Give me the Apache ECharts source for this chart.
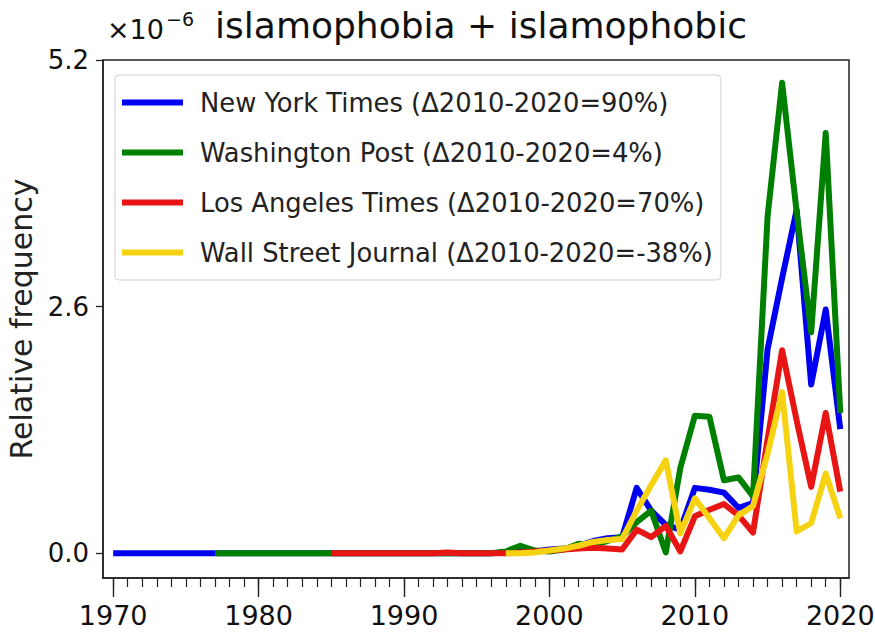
<!DOCTYPE html>
<html>
<head>
<meta charset="utf-8">
<script src="https://cdn.jsdelivr.net/npm/echarts@6/dist/echarts.min.js"></script>
<style>
html,body{margin:0;padding:0;background:#fff;}
#chart{width:875px;height:640px;}
</style>
</head>
<body>
<div id="chart"></div>
<script>
// ---- data ----
const years = [];
for (let y = 1970; y <= 2020; y++) years.push(y);

const seriesNames = [
  'New York Times (\u03942010-2020=90%)',
  'Washington Post (\u03942010-2020=4%)',
  'Los Angeles Times (\u03942010-2020=70%)',
  'Wall Street Journal (\u03942010-2020=-38%)'
];
const seriesColors = ['#0000f0', '#008000', '#e81515', '#f6d312'];

// 1970 .. 2020 (51 values each); null = no data for that year
const nyt = [
  0,0,0,0,0,0,0,0,0,0,            // 1970-1979
  0,0,0,0,0,0,0,0,0,0,            // 1980-1989
  0,0,0,0,0,0,0,0.01,0.02,0.02,   // 1990-1999
  0.04,0.05,0.08,0.13,0.16,0.17,0.69,0.45,0.30,0.25, // 2000-2009
  0.69,0.67,0.64,0.48,0.53,2.15,2.90,3.62,1.78,2.57, // 2010-2019
  1.31                            // 2020
];
const wapo = [
  null,null,null,null,null,null,null,0,0,0,
  0,0,0,0,0,0,0,0,0,0,
  0,0,0,0,0,0,0,0.02,0.08,0.03,
  0.02,0.04,0.10,0.08,0.13,0.18,0.33,0.45,0.01,0.90,
  1.45,1.44,0.77,0.80,0.60,3.55,4.96,3.60,2.33,4.43,
  1.48
];
const lat = [
  null,null,null,null,null,null,null,null,null,null,
  null,null,null,null,null,0,0,0,0,0,
  0,0,0,0.01,0,0,0,0,0.01,0.02,
  0.03,0.04,0.05,0.06,0.05,0.04,0.25,0.17,0.29,0.02,
  0.39,0.46,0.52,0.40,0.22,1.20,2.14,1.40,0.70,1.48,
  0.65
];
const wsj = [
  null,null,null,null,null,null,null,null,null,null,
  null,null,null,null,null,null,null,null,null,null,
  null,null,null,null,null,null,null,0,0,0.01,
  0.03,0.05,0.08,0.12,0.14,0.15,0.45,0.72,0.98,0.21,
  0.58,0.37,0.16,0.40,0.50,1.05,1.70,0.23,0.32,0.84,
  0.37
];
const seriesData = [nyt, wapo, lat, wsj];

const xMajorTicks = [1970, 1980, 1990, 2000, 2010, 2020];
const yTicks = [0, 2.6, 5.2];

const titleText = 'islamophobia + islamophobic';
const offsetBase = '\u00d710';
const offsetExp = '\u22126';
const yAxisTitle = 'Relative frequency';

// ---- chart ----
const FONT = 'DejaVu Sans';
const chart = echarts.init(document.getElementById('chart'), null, {renderer: 'svg'});

const X_MIN = 1969.3, X_MAX = 2020.6;
const baseX = {
  type: 'value', min: X_MIN, max: X_MAX, position: 'bottom',
  axisLine: {show: false, onZero: false},
  axisTick: {show: false},
  axisLabel: {show: false},
  splitLine: {show: false}
};

const option = {
  backgroundColor: '#fff',
  animation: false,
  textStyle: {fontFamily: FONT},
  grid: {
    left: 103, right: 26, top: 60, bottom: 62,
    containLabel: false, outerBoundsMode: 'none',
    show: true, borderColor: '#222', borderWidth: 1.5, backgroundColor: '#fff'
  },
  graphic: [
    {type: 'text', x: 481, y: 7, style: {text: titleText, fill: '#111', font: '36px "DejaVu Sans"', textAlign: 'center', verticalAlign: 'top'}},
    {type: 'text', x: 107, y: 16, style: {text: offsetBase, fill: '#111', font: '27px "DejaVu Sans"', textAlign: 'left', verticalAlign: 'top'}},
    {type: 'text', x: 166, y: 9, style: {text: offsetExp, fill: '#111', font: '19px "DejaVu Sans"', textAlign: 'left', verticalAlign: 'top'}}
  ],
  legend: {
    orient: 'vertical', left: 115, top: 75,
    data: seriesNames,
    icon: 'rect', itemWidth: 61, itemHeight: 6, itemGap: 23,
    padding: [14, 8, 14, 7],
    borderColor: '#d0d0d0', borderWidth: 1, borderRadius: 4,
    backgroundColor: 'rgba(255,255,255,0.85)',
    textStyle: {fontFamily: FONT, fontSize: 25.8, color: '#222', lineHeight: 27, padding: [0, 0, 0, 12]}
  },
  xAxis: [
    Object.assign({}, baseX, {
      axisLine: {show: true, onZero: false, lineStyle: {color: '#222', width: 1.5}},
      axisLabel: {show: true, customValues: xMajorTicks, fontSize: 27, color: '#111', margin: 24, fontFamily: FONT,
        formatter: v => String(Math.round(v))}
    }),
    Object.assign({}, baseX, {
      axisTick: {show: true, customValues: years, length: 9, lineStyle: {color: '#222', width: 1.2}}
    }),
    Object.assign({}, baseX, {
      axisTick: {show: true, customValues: xMajorTicks, length: 19, lineStyle: {color: '#222', width: 1.4}}
    })
  ],
  yAxis: {
    type: 'value', min: -0.26, max: 5.2,
    name: yAxisTitle, nameLocation: 'middle', nameGap: 55, nameRotate: 90,
    nameTextStyle: {fontSize: 30, color: '#222', fontFamily: FONT},
    axisLine: {show: true, onZero: false, lineStyle: {color: '#222', width: 1.5}},
    axisTick: {show: true, customValues: yTicks, length: 7, lineStyle: {color: '#222', width: 1.3}},
    axisLabel: {show: true, customValues: yTicks, fontSize: 26, color: '#111', margin: 14, fontFamily: FONT,
      formatter: v => v.toFixed(1)},
    splitLine: {show: false}
  },
  series: seriesNames.map((name, i) => ({
    name: name,
    type: 'line',
    xAxisIndex: 0,
    data: years.map((y, j) => [y, seriesData[i][j]]),
    showSymbol: false,
    symbol: 'none',
    connectNulls: false,
    color: seriesColors[i],
    lineStyle: {width: 6, color: seriesColors[i], join: 'round', cap: 'butt'},
    emphasis: {disabled: true}
  }))
};
chart.setOption(option);
</script>
</body>
</html>
